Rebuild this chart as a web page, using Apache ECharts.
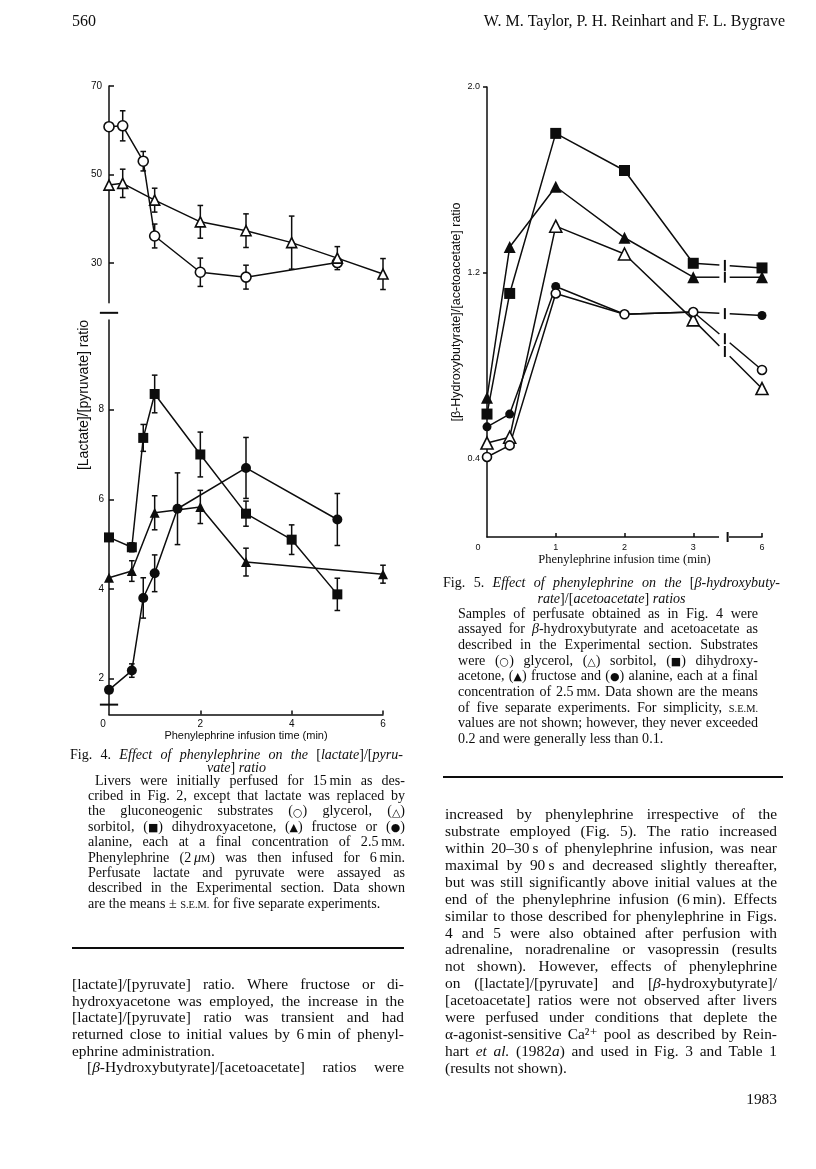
<!DOCTYPE html>
<html><head><meta charset="utf-8">
<script src="https://cdn.jsdelivr.net/npm/echarts@6/dist/echarts.min.js"></script>
<style>html,body{margin:0;padding:0;background:#fff}#c{width:816px;height:1169px}</style>
</head><body><div id="c"></div>
<script>
// ================= DATA =================
// Fig. 4  [lactate]/[pyruvate] ratio  (time in min)
const f4GlycerolTime = [0, 0.3, 0.75, 1, 2, 3, 5];
const f4GlycerolMean = [60.8, 61.0, 53.0, 36.1, 27.9, 26.8, 30.1];
const f4GlycerolSem  = [0, 3.4, 2.2, 2.7, 3.2, 2.7, 1.0];
const f4SorbitolTime = [0, 0.3, 1, 2, 3, 4, 5, 6];
const f4SorbitolMean = [47.6, 48.0, 44.2, 39.3, 37.3, 34.6, 31.1, 27.5];
const f4SorbitolSem  = [0, 3.2, 2.7, 3.7, 3.8, 6.0, 2.6, 3.5];
const f4DhaTime = [0, 0.5, 0.75, 1, 2, 3, 4, 5];
const f4DhaMean = [5.15, 4.93, 7.37, 8.35, 7.0, 5.68, 5.1, 3.88];
const f4DhaSem  = [0, 0.1, 0.3, 0.42, 0.5, 0.28, 0.33, 0.36];
const f4FructoseTime = [0, 0.5, 1, 2, 3, 6];
const f4FructoseMean = [4.25, 4.4, 5.7, 5.83, 4.6, 4.33];
const f4FructoseSem  = [0, 0.23, 0.38, 0.37, 0.31, 0.2];
const f4AlanineTime = [0, 0.5, 0.75, 1, 1.5, 3, 5];
const f4AlanineMean = [1.75, 2.18, 3.8, 4.35, 5.79, 6.7, 5.55];
const f4AlanineSem  = [0, 0.15, 0.45, 0.41, 0.8, 0.68, 0.58];
const f4XTicks = [0, 2, 4, 6];
const f4UpperYTicks = [30, 50, 70];
const f4LowerYTicks = [2, 4, 6, 8];

// Fig. 5  [beta-hydroxybutyrate]/[acetoacetate] ratio
const f5Time = [0, 0.33, 1, 2, 3, 6];
const f5Glycerol = [0.405, 0.455, 1.11, 1.02, 1.03, 0.78];
const f5Sorbitol = [0.465, 0.49, 1.40, 1.28, 0.996, 0.70];
const f5Dha      = [0.59, 1.11, 1.80, 1.64, 1.24, 1.22];
const f5Fructose = [0.66, 1.31, 1.57, 1.35, 1.18, 1.18];
const f5Alanine  = [0.535, 0.59, 1.14, 1.02, 1.03, 1.015];
const f5XTicks = [0, 1, 2, 3, 6];
const f5YTicks = [0.4, 1.2, 2.0];

// ================= TEXT =================
const headerLeft = '560';
const headerRight = 'W. M. Taylor, P. H. Reinhart and F. L. Bygrave';
const footerText = '1983';
const f4XTitle = 'Phenylephrine infusion time (min)';
const f4YTitle = '[Lactate]/[pyruvate] ratio';
const f5XTitle = 'Phenylephrine infusion time (min)';
const f5YTitle = '[\u03b2-Hydroxybutyrate]/[acetoacetate] ratio';
const fig4TitleLines = [
  'Fig. 4. _Effect of phenylephrine on the_ [_lactate_]/[_pyru-_',
  '_vate_] _ratio_'
];
const fig4CaptionLines = [
  'Livers were initially perfused for 15\u2009min as des-',
  'cribed in Fig. 2, except that lactate was replaced by',
  'the gluconeogenic substrates (\u25cb) glycerol, (\u25b3)',
  'sorbitol, (\u25a0) dihydroxyacetone, (\u25b2) fructose or (\u25cf)',
  'alanine, each at a final concentration of 2.5\u2009m~m~.',
  'Phenylephrine (2\u2009_\u03bc_~m~) was then infused for 6\u2009min.',
  'Perfusate lactate and pyruvate were assayed as',
  'described in the Experimental section. Data shown',
  'are the means \u00b1 ~s.e.m.~ for five separate experiments.'
];
const leftBodyLines = [
  '[lactate]/[pyruvate] ratio. Where fructose or di-',
  'hydroxyacetone was employed, the increase in the',
  '[lactate]/[pyruvate] ratio was transient and had',
  'returned close to initial values by 6\u2009min of phenyl-',
  'ephrine administration.',
  '[_\u03b2_-Hydroxybutyrate]/[acetoacetate] ratios were'
];
const fig5TitleLines = [
  'Fig. 5. _Effect of phenylephrine on the_ [_\u03b2-hydroxybuty-_',
  '_rate_]/[_acetoacetate_] _ratios_'
];
const fig5CaptionLines = [
  'Samples of perfusate obtained as in Fig. 4 were',
  'assayed for _\u03b2_-hydroxybutyrate and acetoacetate as',
  'described in the Experimental section. Substrates',
  'were (\u25cb) glycerol, (\u25b3) sorbitol, (\u25a0) dihydroxy-',
  'acetone, (\u25b2) fructose and (\u25cf) alanine, each at a final',
  'concentration of 2.5\u2009m~m~. Data shown are the means',
  'of five separate experiments. For simplicity, ~s.e.m.~',
  'values are not shown; however, they never exceeded',
  '0.2 and were generally less than 0.1.'
];
const rightBodyLines = [
  'increased by phenylephrine irrespective of the',
  'substrate employed (Fig. 5). The ratio increased',
  'within 20\u201330\u2009s of phenylephrine infusion, was near',
  'maximal by 90\u2009s and decreased slightly thereafter,',
  'but was still significantly above initial values at the',
  'end of the phenylephrine infusion (6\u2009min). Effects',
  'similar to those described for phenylephrine in Figs.',
  '4 and 5 were also obtained after perfusion with',
  'adrenaline, noradrenaline or vasopressin (results',
  'not shown). However, effects of phenylephrine',
  'on ([lactate]/[pyruvate] and [_\u03b2_-hydroxybutyrate]/',
  '[acetoacetate] ratios were not observed after livers',
  'were perfused under conditions that deplete the',
  '\u03b1-agonist-sensitive Ca\u00b2\u207a pool as described by Rein-',
  'hart _et al._ (1982_a_) and used in Fig. 3 and Table 1',
  '(results not shown).'
];

// ================= STYLE / LAYOUT =================
const INK = '#0d0d0d';
const SERIF = '"Liberation Serif","Times New Roman","DejaVu Serif",serif';
const SANS = '"Liberation Sans",Arial,Helvetica,sans-serif';
const SYM = '"DejaVu Sans",sans-serif';
const SYMCHARS = '\u25cb\u25b3\u25a0\u25b2\u25cf';
const mctx = document.createElement('canvas').getContext('2d');

function chunkFont(c, size) {
  let s = size, fam = SERIF;
  if (c.sym) { s = size * 0.78; fam = SYM; }
  else if (c.sc) { s = size * 0.74; }
  return { font: (c.it ? 'italic ' : '') + s.toFixed(2) + 'px ' + fam, size: s };
}
function parseWords(str) {
  const words = []; let word = []; let it = false, sc = false, buf = '';
  const flush = () => { if (buf) { word.push({ t: sc ? buf.toUpperCase() : buf, it, sc, sym: false }); buf = ''; } };
  for (const ch of str) {
    if (ch === '_') { flush(); it = !it; continue; }
    if (ch === '~') { flush(); sc = !sc; continue; }
    if (ch === ' ') { flush(); if (word.length) words.push(word); word = []; continue; }
    if (SYMCHARS.includes(ch)) { flush(); word.push({ t: ch, it: false, sc: false, sym: true }); continue; }
    buf += ch;
  }
  flush(); if (word.length) words.push(word);
  return words;
}
function measureLine(str, size) {
  const words = parseWords(str).map(w => w.map(c => {
    const f = chunkFont(c, size); mctx.font = f.font;
    return Object.assign({}, c, { font: f.font, fs: f.size, w: mctx.measureText(c.t).width });
  }));
  const ww = words.map(w => w.reduce((a, c) => a + c.w, 0));
  mctx.font = chunkFont({}, size).font;
  const sp = mctx.measureText(' ').width;
  const total = ww.reduce((a, b) => a + b, 0);
  return { words, ww, sp, total, natural: total + sp * Math.max(0, words.length - 1) };
}
function layoutLine(str, size, x0, x1, y, mode, out) {
  const m = measureLine(str, size);
  let gap = m.sp, x = x0;
  if (mode === 'justify' && m.words.length > 1) gap = (x1 - x0 - m.total) / (m.words.length - 1);
  else if (mode === 'center') x = (x0 + x1) / 2 - m.natural / 2;
  else if (mode === 'right') x = x1 - m.natural;
  m.words.forEach(w => {
    w.forEach(c => {
      out.push({ type: 'text', silent: true, x: x, y: y + 0.3 * (size - c.fs),
        style: { text: c.t, font: c.font, fill: INK, textAlign: 'left', textVerticalAlign: 'middle' } });
      x += c.w;
    });
    x += gap;
  });
}
function fitSize(base, groups) {
  let maxR = 0;
  groups.forEach(g => g.lines.forEach((s, i) => {
    if (g.modes[i] !== 'justify') return;
    const w = g.x1 - g.x0 - (g.indent && i === 0 ? g.indent : 0) - (g.indents && g.indents[i] ? g.indents[i] : 0);
    maxR = Math.max(maxR, measureLine(s, base).natural / w);
  }));
  return base * Math.min(1.1, Math.max(0.85, 0.995 / maxR));
}

const blocks = {
  f4title: { lines: fig4TitleLines, x0: 70, x1: 403, ys: [755, 768], modes: ['justify', 'center'] },
  f4cap: { lines: fig4CaptionLines, x0: 88, x1: 405, y0: 781, dy: 15.4, indent: 7 },
  leftBody: { lines: leftBodyLines, x0: 72, x1: 404, y0: 985, dy: 16.68, indents: [0, 0, 0, 0, 0, 15],
    modes: ['justify', 'justify', 'justify', 'justify', 'left', 'justify'] },
  f5title: { lines: fig5TitleLines, x0: 443, x1: 780, ys: [583, 599], modes: ['justify', 'center'] },
  f5cap: { lines: fig5CaptionLines, x0: 458, x1: 758, y0: 614, dy: 15.66 },
  rightBody: { lines: rightBodyLines, x0: 445, x1: 777, y0: 815, dy: 16.93 }
};
Object.values(blocks).forEach(b => {
  if (!b.modes) b.modes = b.lines.map((s, i) => (i === b.lines.length - 1) ? 'left' : 'justify');
  if (!b.ys) b.ys = b.lines.map((s, i) => b.y0 + i * b.dy);
});
const capSize = fitSize(12.8, [blocks.f4cap, blocks.f5cap]);
const bodySize = fitSize(14, [blocks.leftBody, blocks.rightBody]);
const headSize = 16;
const sizes = { f4title: capSize, f4cap: capSize, f5title: capSize, f5cap: capSize, leftBody: bodySize, rightBody: bodySize };

const textEls = [];
Object.keys(blocks).forEach(k => {
  const b = blocks[k];
  b.lines.forEach((s, i) => {
    let x0 = b.x0;
    if (b.indent && i === 0) x0 += b.indent;
    if (b.indents && b.indents[i]) x0 += b.indents[i];
    layoutLine(s, sizes[k], x0, b.x1, b.ys[i], b.modes[i], textEls);
  });
});
layoutLine(headerLeft, headSize, 72, 404, 22, 'left', textEls);
layoutLine(headerRight, headSize, 430, 785, 22, 'right', textEls);
layoutLine(footerText, bodySize, 445, 777, 1100, 'right', textEls);
// rules
textEls.push({ type: 'line', silent: true, shape: { x1: 72, y1: 948, x2: 404, y2: 948 }, style: { stroke: INK, lineWidth: 2 } });
textEls.push({ type: 'line', silent: true, shape: { x1: 443, y1: 777, x2: 783, y2: 777 }, style: { stroke: INK, lineWidth: 2 } });
// fig 4 y title (spans both panels)
textEls.push({ type: 'text', silent: true, x: 84, y: 395, rotation: Math.PI / 2,
  style: { text: f4YTitle, font: '14px ' + SANS, fill: INK, textAlign: 'center', textVerticalAlign: 'middle' } });

// ================= CHART =================
const f5Pos = t => (t <= 3 ? t : 3 + (t - 3) / 3);   // broken time axis: 3 -> 6 min compressed
const axisLineStyle = { color: INK, width: 1.5 };
const tickStyle = { color: INK, width: 1.5 };

function errRender(params, api) {
  const x = api.value(0), lo = api.value(1), hi = api.value(2);
  const p1 = api.coord([x, hi]), p2 = api.coord([x, lo]);
  const w = 2.8, st = { stroke: INK, lineWidth: 1.5 };
  return { type: 'group', children: [
    { type: 'line', shape: { x1: p1[0], y1: p1[1], x2: p2[0], y2: p2[1] }, style: st },
    { type: 'line', shape: { x1: p1[0] - w, y1: p1[1], x2: p1[0] + w, y2: p1[1] }, style: st },
    { type: 'line', shape: { x1: p2[0] - w, y1: p2[1], x2: p2[0] + w, y2: p2[1] }, style: st }
  ] };
}
function errSeries(axis, times, means, sems) {
  return { type: 'custom', coordinateSystem: 'cartesian2d', xAxisIndex: axis, yAxisIndex: axis, z: 1, silent: true, clip: false,
    renderItem: errRender, encode: { x: 0, y: [1, 2] },
    data: times.map((t, i) => [t, means[i] - sems[i], means[i] + sems[i]]).filter(d => d[2] > d[1]) };
}
function lineSeries(name, axis, data, symbol, size, open) {
  return { type: 'line', name, xAxisIndex: axis, yAxisIndex: axis, data, symbol, symbolSize: size, showSymbol: true,
    connectNulls: false, silent: true, clip: false, z: 3, emphasis: { disabled: true },
    lineStyle: { color: INK, width: 1.5 },
    itemStyle: { color: open ? '#fff' : INK, borderColor: INK, borderWidth: open ? 1.6 : 0, opacity: 1 } };
}
const zip = (ts, vs) => ts.map((t, i) => [t, vs[i]]);
function f5Data(vals) {
  const d = [];
  f5Time.forEach((t, i) => {
    if (i > 0 && f5Time[i - 1] <= 3 && t > 3) d.push([3.5, '-']);   // axis break
    d.push([f5Pos(t), vals[i]]);
  });
  return d;
}
// fig.5 connecting segments across the axis break (3 -> 6 min)
function breakRender(params, api) {
  const a = api.coord([3, api.value(0)]), b = api.coord([4, api.value(1)]);
  const L = f => [a[0] + (b[0] - a[0]) * f, a[1] + (b[1] - a[1]) * f];
  const g1 = L(0.38), g2 = L(0.53), m = L(0.46);
  const st = { stroke: INK, lineWidth: 1.5 };
  return { type: 'group', children: [
    { type: 'line', shape: { x1: a[0], y1: a[1], x2: g1[0], y2: g1[1] }, style: st },
    { type: 'line', shape: { x1: g2[0], y1: g2[1], x2: b[0], y2: b[1] }, style: st },
    { type: 'line', shape: { x1: m[0], y1: m[1] - 5.5, x2: m[0], y2: m[1] + 5.5 }, style: { stroke: INK, lineWidth: 2 } }
  ] };
}
const f5Series = [f5Alanine, f5Dha, f5Fructose, f5Sorbitol, f5Glycerol];
function axisBreakRender(params, api) {
  const yMin = 0.06;
  const p1 = api.coord([3.375, yMin]), p2 = api.coord([3.52, yMin]), pb = api.coord([3.5, yMin]);
  return { type: 'group', children: [
    { type: 'rect', shape: { x: p1[0], y: p1[1] - 2.5, width: p2[0] - p1[0], height: 5 }, style: { fill: '#fff' } },
    { type: 'line', shape: { x1: pb[0], y1: pb[1] - 5, x2: pb[0], y2: pb[1] + 5 }, style: { stroke: INK, lineWidth: 2 } }
  ] };
}
function f4BreakRender(params, api) {
  const v = api.value(0);
  const p1 = api.coord([-0.2, v]), p2 = api.coord([0.2, v]);
  return { type: 'line', shape: { x1: p1[0], y1: p1[1], x2: p2[0], y2: p2[1] }, style: { stroke: INK, lineWidth: 2 } };
}

const labelBase = { color: INK, fontFamily: SANS };
const option = {
  animation: false,
  backgroundColor: '#fff',
  grid: [
    { left: 109, top: 86, width: 274, height: 216.8, outerBoundsMode: 'none' },
    { left: 109, top: 320, width: 274, height: 394.5, outerBoundsMode: 'none' },
    { left: 487, top: 87, width: 275, height: 450, outerBoundsMode: 'none' }
  ],
  xAxis: [
    { gridIndex: 0, type: 'value', min: 0, max: 6, show: false },
    { gridIndex: 1, type: 'value', min: 0, max: 6, splitLine: { show: false },
      axisLine: { show: true, onZero: false, lineStyle: axisLineStyle },
      axisTick: { show: true, inside: true, length: 4, customValues: f4XTicks.filter(v => v > 0), lineStyle: tickStyle },
      axisLabel: { ...labelBase, fontSize: 10, margin: 5, customValues: f4XTicks,
        formatter: v => v === 0 ? '{z|0}' : String(v), rich: { z: { padding: [0, 12, 0, 0], fontSize: 10, fontFamily: SANS, color: INK } } },
      name: f4XTitle, nameLocation: 'middle', nameGap: 15,
      nameTextStyle: { color: INK, fontFamily: SANS, fontSize: 11 } },
    { gridIndex: 2, type: 'value', min: 0, max: 4, splitLine: { show: false },
      axisLine: { show: true, onZero: false, lineStyle: axisLineStyle },
      axisTick: { show: true, inside: true, length: 4, customValues: f5XTicks.filter(v => v > 0).map(f5Pos), lineStyle: tickStyle },
      axisLabel: { ...labelBase, fontSize: 9, margin: 6, customValues: f5XTicks.map(f5Pos),
        formatter: v => { const t = f5XTicks[f5XTicks.map(f5Pos).findIndex(p => Math.abs(p - v) < 1e-6)]; return t === 0 ? '{z|0}' : String(t); },
        rich: { z: { padding: [0, 18, 0, 0], fontSize: 9, fontFamily: SANS, color: INK } } },
      name: f5XTitle, nameLocation: 'middle', nameGap: 14,
      nameTextStyle: { color: INK, fontFamily: SERIF, fontSize: 12.5 } }
  ],
  yAxis: [
    { gridIndex: 0, type: 'value', min: 21, max: 70, splitLine: { show: false },
      axisLine: { show: true, onZero: false, lineStyle: axisLineStyle },
      axisTick: { show: true, inside: true, length: 5, customValues: f4UpperYTicks, lineStyle: tickStyle },
      axisLabel: { ...labelBase, fontSize: 10, margin: 7, customValues: f4UpperYTicks } },
    { gridIndex: 1, type: 'value', min: 1.2, max: 10, splitLine: { show: false },
      axisLine: { show: true, onZero: false, lineStyle: axisLineStyle },
      axisTick: { show: true, inside: true, length: 5, customValues: f4LowerYTicks, lineStyle: tickStyle },
      axisLabel: { ...labelBase, fontSize: 10, margin: 5, customValues: f4LowerYTicks } },
    { gridIndex: 2, type: 'value', min: 0.06, max: 2.0, splitLine: { show: false },
      axisLine: { show: true, onZero: false, lineStyle: axisLineStyle },
      axisTick: { show: true, inside: false, length: 4, customValues: f5YTicks, lineStyle: tickStyle },
      axisLabel: { ...labelBase, fontSize: 9, margin: 7, customValues: f5YTicks, formatter: v => v.toFixed(1) },
      name: f5YTitle, nameLocation: 'middle', nameGap: 24, nameRotate: 90,
      nameTextStyle: { color: INK, fontFamily: SANS, fontSize: 12.5 } }
  ],
  series: [
    // Fig 4 upper
    errSeries(0, f4GlycerolTime, f4GlycerolMean, f4GlycerolSem),
    errSeries(0, f4SorbitolTime, f4SorbitolMean, f4SorbitolSem),
    lineSeries('Glycerol', 0, zip(f4GlycerolTime, f4GlycerolMean), 'circle', 10, true),
    lineSeries('Sorbitol', 0, zip(f4SorbitolTime, f4SorbitolMean), 'triangle', 10, true),
    // Fig 4 lower
    errSeries(1, f4DhaTime, f4DhaMean, f4DhaSem),
    errSeries(1, f4FructoseTime, f4FructoseMean, f4FructoseSem),
    errSeries(1, f4AlanineTime, f4AlanineMean, f4AlanineSem),
    lineSeries('Dihydroxyacetone', 1, zip(f4DhaTime, f4DhaMean), 'rect', 10, false),
    lineSeries('Fructose', 1, zip(f4FructoseTime, f4FructoseMean), 'triangle', 10, false),
    lineSeries('Alanine', 1, zip(f4AlanineTime, f4AlanineMean), 'circle', 10, false),
    { type: 'custom', coordinateSystem: 'cartesian2d', xAxisIndex: 1, yAxisIndex: 1, z: 4, silent: true, clip: false,
      renderItem: f4BreakRender, data: [[10.16], [1.42]], encode: { y: 0 } },
    // Fig 5
    { type: 'custom', coordinateSystem: 'cartesian2d', xAxisIndex: 2, yAxisIndex: 2, z: 1, silent: true, clip: false,
      renderItem: breakRender, data: f5Series.map(s => [s[4], s[5]]), encode: { y: [0, 1] } },
    { type: 'custom', coordinateSystem: 'cartesian2d', xAxisIndex: 2, yAxisIndex: 2, z: 4, silent: true, clip: false,
      renderItem: axisBreakRender, data: [[0]], encode: { y: 0 } },
    lineSeries('Alanine', 2, f5Data(f5Alanine), 'circle', 9, false),
    lineSeries('Dihydroxyacetone', 2, f5Data(f5Dha), 'rect', 11, false),
    lineSeries('Fructose', 2, f5Data(f5Fructose), 'triangle', 12, false),
    lineSeries('Sorbitol', 2, f5Data(f5Sorbitol), 'triangle', 12, true),
    lineSeries('Glycerol', 2, f5Data(f5Glycerol), 'circle', 9, true)
  ],
  graphic: { elements: textEls }
};
const chart = echarts.init(document.getElementById('c'), null, { renderer: 'canvas', width: 816, height: 1169 });
chart.setOption(option);
</script>
</body></html>
